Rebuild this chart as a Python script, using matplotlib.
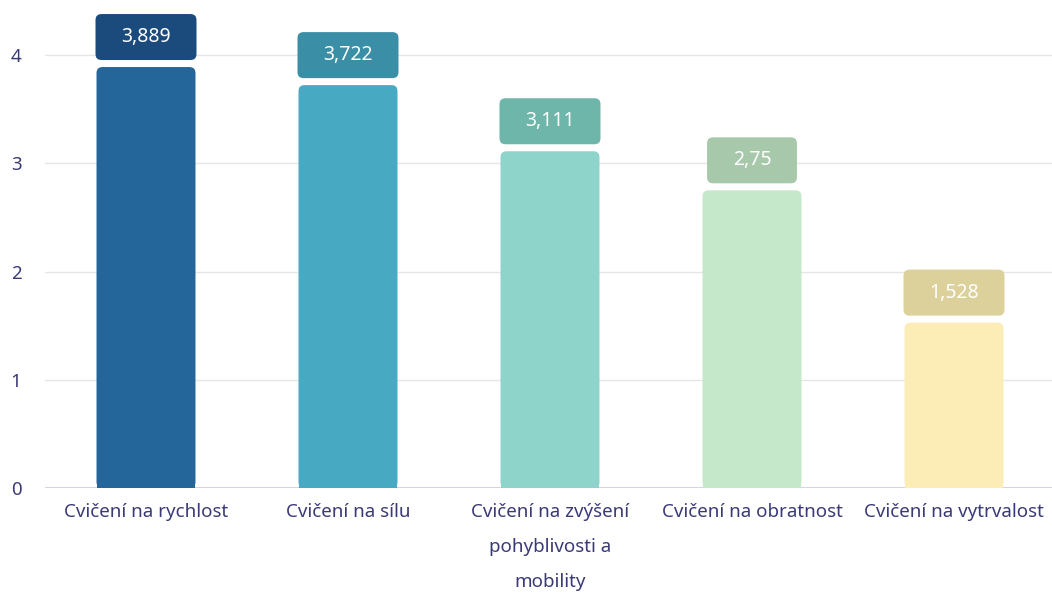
import matplotlib
matplotlib.use("Agg")
import matplotlib.pyplot as plt
from matplotlib.patches import FancyBboxPatch, Rectangle

categories = ["Cvičení na rychlost", "Cvičení na sílu",
              "Cvičení na zvýšení\npohyblivosti a\nmobility",
              "Cvičení na obratnost", "Cvičení na vytrvalost"]
values = [3.889, 3.722, 3.111, 2.75, 1.528]
value_labels = ["3,889", "3,722", "3,111", "2,75", "1,528"]
yticks = [0, 1, 2, 3, 4]

bar_colors = ["#246699", "#48a9c2", "#8fd4ca", "#c5e8ca", "#fcecb6"]
box_colors = ["#1b4b7d", "#3a8ea6", "#6eb6aa", "#a8c8ab", "#ddd19b"]
text_color = "#3a3a78"

plt.rcParams['font.family'] = ['Noto Sans', 'DejaVu Sans']

W, H = 1052, 592
fig = plt.figure(figsize=(W / 100, H / 100), dpi=100)
ax = fig.add_axes([45 / W, (H - 488) / H, 1010 / W, 487.1 / H])
ax.set_xlim(-0.5, 4.5)
ax.set_ylim(0, 4.5)

px_x = 1 / 202.0      # data units per pixel in x
px_y = 1 / 108.25     # data units per pixel in y
aspect = px_y / px_x

bw = 0.49
r = 6 * px_x
for i, (v, c, bc, lab) in enumerate(zip(values, bar_colors, box_colors, value_labels)):
    p = FancyBboxPatch((i - bw / 2, 0), bw, v,
                       boxstyle=f"round,pad=0,rounding_size={r}",
                       mutation_aspect=aspect, fc=c, ec="none", zorder=3)
    ax.add_patch(p)
    ax.add_patch(Rectangle((i - bw / 2, 0), bw, 0.2, fc=c, ec="none", zorder=3))
    boxw = 0.5 if len(lab) > 4 else 0.445
    b0 = v + 7 * px_y
    bh = 46 * px_y
    ax.add_patch(FancyBboxPatch((i - boxw / 2, b0), boxw, bh,
                                boxstyle=f"round,pad=0,rounding_size={r}",
                                mutation_aspect=aspect, fc=bc, ec="none", zorder=4))
    ax.text(i, b0 + bh / 2, lab, ha="center", va="center", color="white",
            fontsize=14, fontweight="light", zorder=5)

ax.set_yticks(yticks)
ax.set_yticklabels([str(t) for t in yticks])
ax.set_xticks(range(len(categories)))
ax.set_xticklabels(categories, linespacing=2.2, va="top")
ax.tick_params(axis="both", length=0, colors=text_color, labelsize=13.5)
ax.tick_params(axis="y", pad=17)
ax.tick_params(axis="x", pad=11)
ax.grid(axis="y", color="#e6e6e6", linewidth=1, zorder=0)
ax.set_axisbelow(True)
for s in ax.spines.values():
    s.set_visible(False)
ax.axhline(0, color="#d4d4ee", linewidth=1.5, zorder=2)

fig.savefig("out.png", dpi=100)
